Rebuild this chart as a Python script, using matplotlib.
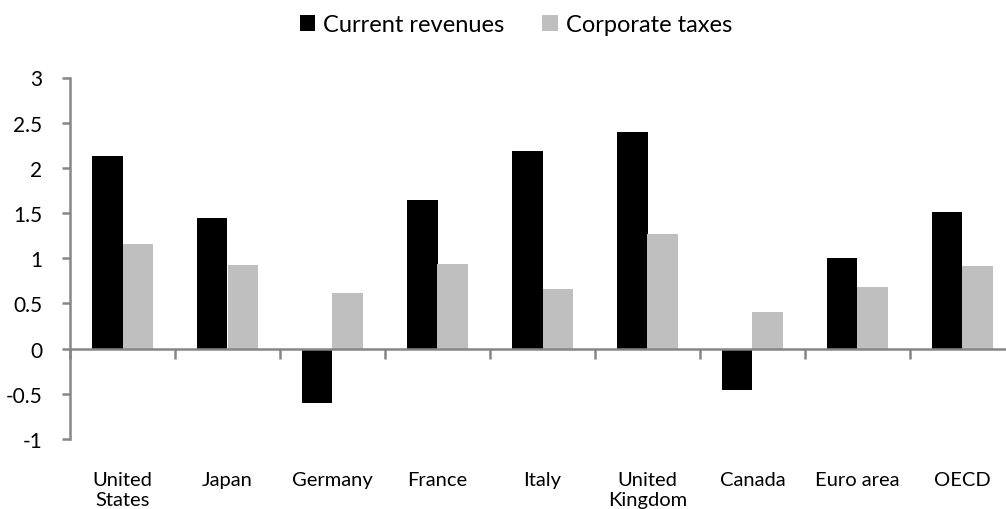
import matplotlib
matplotlib.use("Agg")
import matplotlib.pyplot as plt
import numpy as np

categories = ["United\nStates", "Japan", "Germany", "France", "Italy",
              "United\nKingdom", "Canada", "Euro area", "OECD"]
current_revenues = [2.13, 1.45, -0.60, 1.64, 2.19, 2.40, -0.46, 1.00, 1.51]
corporate_taxes = [1.16, 0.93, 0.61, 0.94, 0.66, 1.27, 0.40, 0.68, 0.91]
series_names = ["Current revenues", "Corporate taxes"]
yticks = [-1, -0.5, 0, 0.5, 1, 1.5, 2, 2.5, 3]
ytick_labels = ["-1", "-0.5", "0", "0.5", "1", "1.5", "2", "2.5", "3"]

plt.rcParams['font.family'] = ['Lato', 'DejaVu Sans']

W, H = 1006, 510
fig = plt.figure(figsize=(W / 100, H / 100), dpi=100)
ax = fig.add_axes([70 / W, (H - 440) / H, (1015 - 70) / W, (440 - 78.5) / H])

x = np.arange(len(categories))
bw = 0.286
axis_grey = "#868686"
ax.bar(x - bw / 2, current_revenues, width=bw, color="black", label=series_names[0], zorder=2)
ax.bar(x + bw / 2, corporate_taxes, width=bw, color="#BFBFBF", label=series_names[1], zorder=2)

ax.set_xlim(-0.5, len(categories) - 0.5)
ax.set_ylim(-1, 3)
ax.set_yticks(yticks)
ax.set_yticklabels(ytick_labels, fontsize=15)

for s in ["top", "right"]:
    ax.spines[s].set_visible(False)
ax.spines["left"].set_color(axis_grey)
ax.spines["left"].set_linewidth(1.8)
ax.spines["bottom"].set_position(("data", 0))
ax.spines["bottom"].set_color(axis_grey)
ax.spines["bottom"].set_linewidth(1.8)
ax.spines["bottom"].set_zorder(3)

ax.set_xticks(np.arange(len(categories) + 1) - 0.5)
ax.tick_params(axis="x", length=7, width=1.8, color=axis_grey, labelbottom=False, direction="out")
ax.tick_params(axis="y", length=6, width=1.8, color=axis_grey, pad=14)

sec = ax.secondary_xaxis("bottom")
sec.set_xticks(x)
sec.set_xticklabels(categories, fontsize=14.5, linespacing=1.25)
sec.tick_params(length=0, pad=23)
sec.spines["bottom"].set_visible(False)

fig.legend(loc="center", bbox_to_anchor=(516 / W, 1 - 26 / H), ncol=2, frameon=False,
           fontsize=17, handlelength=0.65, handleheight=0.65, handletextpad=0.35,
           columnspacing=1.6)

fig.savefig("out.png", dpi=100)
